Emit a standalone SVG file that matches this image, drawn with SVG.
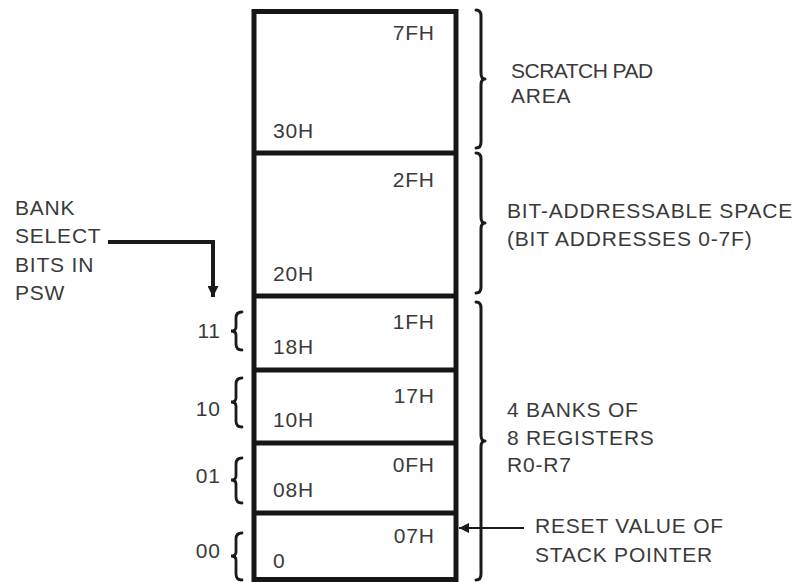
<svg xmlns="http://www.w3.org/2000/svg" width="806" height="582" viewBox="0 0 806 582">
<defs>
<style>
.t{font-family:"Liberation Sans",Arial,Helvetica,sans-serif;font-size:21px;fill:#3a3a3a;letter-spacing:0.8px}
.e{text-anchor:end}
.box{fill:none;stroke:#161616;stroke-width:5}
.div{stroke:#161616;stroke-width:5}
.br{fill:none;stroke:#1a1a1a;stroke-width:3;stroke-linejoin:round;stroke-linecap:round}
.lb{fill:none;stroke:#1a1a1a;stroke-width:2.8;stroke-linecap:round}
.ln{fill:none;stroke:#1a1a1a}
</style>
<marker id="ah" viewBox="0 0 10 10" refX="10" refY="5" markerWidth="10" markerHeight="10" markerUnits="userSpaceOnUse" orient="auto">
<path d="M0,0 L10,5 L0,10 Z" fill="#1a1a1a"/>
</marker>
<marker id="ah2" viewBox="0 0 10 10" refX="10" refY="5" markerWidth="12" markerHeight="11" markerUnits="userSpaceOnUse" orient="auto">
<path d="M0,0 L10,5 L0,10 Z" fill="#1a1a1a"/>
</marker>
</defs>
<rect width="806" height="582" fill="#ffffff"/>

<g id="memory">
<rect class="box" x="254" y="11.5" width="202" height="568"/>
</g>
<g id="scratch-pad">
<line class="div" x1="254" y1="153" x2="456" y2="153"/>
<text class="t e" x="434.8" y="40">7FH</text>
<text class="t" x="273" y="138">30H</text>
</g>
<g id="bit-addressable">
<line class="div" x1="254" y1="296" x2="456" y2="296"/>
<text class="t e" x="434.8" y="187">2FH</text>
<text class="t" x="273" y="281">20H</text>
</g>
<g id="bank3">
<line class="div" x1="254" y1="370" x2="456" y2="370"/>
<text class="t e" x="434.8" y="329">1FH</text>
<text class="t" x="273" y="354">18H</text>
</g>
<g id="bank2">
<line class="div" x1="254" y1="443" x2="456" y2="443"/>
<text class="t e" x="434.8" y="403">17H</text>
<text class="t" x="273" y="427">10H</text>
</g>
<g id="bank1">
<line class="div" x1="254" y1="513" x2="456" y2="513"/>
<text class="t e" x="434.8" y="472">0FH</text>
<text class="t" x="273" y="497">08H</text>
</g>
<g id="bank0">
<text class="t e" x="434.8" y="543">07H</text>
<text class="t" x="273" y="568">0</text>
</g>

<g id="right-braces">
<path class="br" d="M476,10 Q481,10 481,16 L481,73 Q481,79 485,79 Q481,79 481,85 L481,142 Q481,148 476,148"/>
<path class="br" d="M476,153 Q481,153 481,159 L481,217 Q481,223 485,223 Q481,223 481,229 L481,287 Q481,293 476,293"/>
<path class="br" d="M476,302 Q481,302 481,308 L481,435 Q481,441 485,441 Q481,441 481,447 L481,574 Q481,580 476,580"/>
</g>

<g id="left-braces">
<path class="lb" d="M242,312 Q236,312 236,318 L236,327 Q236,331 231,331 Q236,331 236,335 L236,344 Q236,350 242,350"/>
<path class="lb" d="M242,378 Q236,378 236,384 L236,398 Q236,402 231,402 Q236,402 236,406 L236,421 Q236,427 242,427"/>
<path class="lb" d="M242,458 Q236,458 236,464 L236,476 Q236,480 231,480 Q236,480 236,484 L236,497 Q236,503 242,503"/>
<path class="lb" d="M242,533 Q236,533 236,539 L236,552 Q236,556 231,556 Q236,556 236,560 L236,574 Q236,580 242,580"/>
</g>

<g id="bank-bits">
<text class="t e" x="220.8" y="338">11</text>
<text class="t e" x="220.8" y="416">10</text>
<text class="t e" x="220.8" y="483">01</text>
<text class="t e" x="220.8" y="558">00</text>
</g>

<g id="bank-select-label">
<text class="t" x="15" y="215">BANK</text>
<text class="t" x="15" y="243">SELECT</text>
<text class="t" x="15" y="272">BITS IN</text>
<text class="t" x="15" y="300">PSW</text>
</g>

<g id="scratch-label">
<text class="t" x="511" y="78" textLength="143" lengthAdjust="spacing">SCRATCH PAD</text>
<text class="t" x="511" y="103">AREA</text>
</g>
<g id="bit-label">
<text class="t" x="507" y="218">BIT-ADDRESSABLE SPACE</text>
<text class="t" x="507" y="246">(BIT ADDRESSES 0-7F)</text>
</g>
<g id="banks-label">
<text class="t" x="507" y="417">4 BANKS OF</text>
<text class="t" x="507" y="445">8 REGISTERS</text>
<text class="t" x="507" y="472">R0-R7</text>
</g>
<g id="reset-label">
<text class="t" x="535" y="533">RESET VALUE OF</text>
<text class="t" x="535" y="562">STACK POINTER</text>
</g>

<g id="connectors">
<path class="ln" stroke-width="4" d="M108,242 L213,242 L213,297" marker-end="url(#ah2)"/>
<path class="ln" stroke-width="2" d="M524,528 L459,528" marker-end="url(#ah)"/>
</g>
</svg>
